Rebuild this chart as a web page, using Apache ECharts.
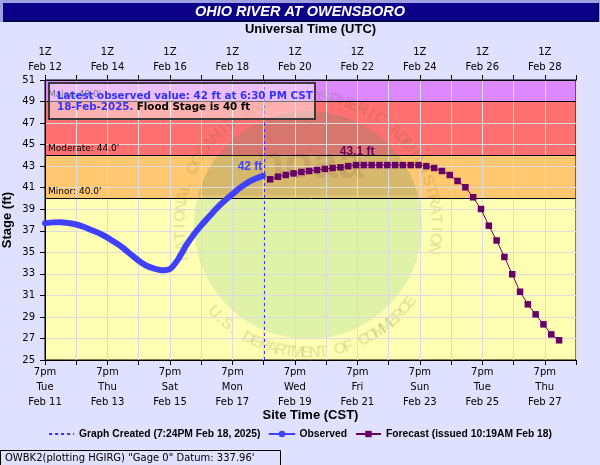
<!DOCTYPE html>
<html><head><meta charset="utf-8">
<script src="https://cdn.jsdelivr.net/npm/echarts@6/dist/echarts.min.js"></script>
<style>html,body{margin:0;padding:0;background:#e0e0ff}#c{width:600px;height:465px}</style>
</head><body><div id="c"></div>
<script>
// ---------- data ----------
const chartTitle = 'OHIO RIVER AT OWENSBORO';
const obsTimes = ['2025-02-11 19:00',
  '2025-02-12 01:00','2025-02-12 07:00','2025-02-12 13:00','2025-02-12 19:00',
  '2025-02-13 01:00','2025-02-13 07:00','2025-02-13 13:00','2025-02-13 19:00',
  '2025-02-14 01:00','2025-02-14 07:00','2025-02-14 13:00','2025-02-14 19:00',
  '2025-02-15 01:00','2025-02-15 07:00','2025-02-15 13:00','2025-02-15 19:00',
  '2025-02-16 01:00','2025-02-16 07:00','2025-02-16 13:00','2025-02-16 19:00',
  '2025-02-17 01:00','2025-02-17 07:00','2025-02-17 13:00','2025-02-17 19:00',
  '2025-02-18 01:00','2025-02-18 07:00','2025-02-18 13:00','2025-02-18 18:30'];
const obsStage = [37.7,
  37.78,37.8,37.72,37.58,
  37.35,37.05,36.75,36.37,
  35.9,35.4,34.8,34.22,
  33.75,33.48,33.33,33.45,
  34.3,35.55,36.6,37.5,
  38.3,39.1,39.78,40.4,
  41.0,41.5,41.85,42.1];
const fcstTimes = [
  '2025-02-19 00:00','2025-02-19 06:00','2025-02-19 12:00','2025-02-19 18:00',
  '2025-02-20 00:00','2025-02-20 06:00','2025-02-20 12:00','2025-02-20 18:00',
  '2025-02-21 00:00','2025-02-21 06:00','2025-02-21 12:00','2025-02-21 18:00',
  '2025-02-22 00:00','2025-02-22 06:00','2025-02-22 12:00','2025-02-22 18:00',
  '2025-02-23 00:00','2025-02-23 06:00','2025-02-23 12:00','2025-02-23 18:00',
  '2025-02-24 00:00','2025-02-24 06:00','2025-02-24 12:00','2025-02-24 18:00',
  '2025-02-25 00:00','2025-02-25 06:00','2025-02-25 12:00','2025-02-25 18:00',
  '2025-02-26 00:00','2025-02-26 06:00','2025-02-26 12:00','2025-02-26 18:00',
  '2025-02-27 00:00','2025-02-27 06:00','2025-02-27 12:00','2025-02-27 18:00',
  '2025-02-28 00:00','2025-02-28 06:00'];
const fcstStage = [
  41.78,42.02,42.18,42.33,
  42.46,42.55,42.64,42.74,
  42.83,42.89,43.0,43.1,
  43.1,43.1,43.1,43.1,
  43.1,43.1,43.1,43.1,
  43.0,42.83,42.55,42.18,
  41.62,41.04,40.11,39.02,
  37.47,36.1,34.57,32.96,
  31.34,30.17,29.24,28.31,
  27.38,26.83];
const floodNames = ['Minor','Moderate','Major'];
const floodStages = [40, 44, 49];
const bandColors = ['#ffffb4','#ffc870','#ff7070','#dd88ff'];
const yMin = 25, yMax = 51, yStep = 2;
const xStart = '2025-02-11 19:00', xEnd = '2025-02-28 19:00';
const graphCreated = '2025-02-18 19:24';
const legendNames = ['Graph Created (7:24PM Feb 18, 2025)','Observed','Forecast (issued 10:19AM Feb 18)'];
const footerText = 'OWBK2(plotting HGIRG) "Gage 0" Datum: 337.96\'';
const dayNames = ['Sun','Mon','Tue','Wed','Thu','Fri','Sat'];
const monNames = ['Jan','Feb','Mar','Apr','May','Jun','Jul','Aug','Sep','Oct','Nov','Dec'];

// ---------- helpers ----------
const CST = -6, HOUR = 3600e3, DAY = 86400e3;
function toMs(s){ // CST string -> UTC ms
  return Date.UTC(+s.slice(0,4), +s.slice(5,7)-1, +s.slice(8,10), +s.slice(11,13) - CST, +s.slice(14,16));
}
const xMin = toMs(xStart), xMax = toMs(xEnd);
const obsData = obsTimes.map((t,i)=>[toMs(t), obsStage[i]]);
let peakIdx = 0; fcstStage.forEach((v,i)=>{ if (v > fcstStage[peakIdx]) peakIdx = i; });
const fcstData = fcstTimes.map((t,i)=>{
  const d = {value:[toMs(t), fcstStage[i]]};
  if (i === peakIdx) d.label = {show:true, position:'top', distance:4, offset:[1,0],
     formatter: fcstStage[i].toFixed(1)+' ft', color:'#660066', fontWeight:'bold', fontSize:12, fontFamily:'Liberation Sans'};
  return d;
});
const lastObs = obsData.length-1;

// info text
const lt = obsTimes[lastObs];
const lh = +lt.slice(11,13), lm = lt.slice(14,16);
const ltStr = ((lh%12)||12)+':'+lm+' '+(lh>=12?'PM':'AM')+' CST';
const ldStr = lt.slice(8,10)+'-'+monNames[+lt.slice(5,7)-1]+'-'+lt.slice(0,4)+'.';
const infoLine1 = 'Latest observed value: '+Math.round(obsStage[lastObs])+' ft at '+ltStr;
const infoLine2b = 'Flood Stage is '+floodStages[0]+' ft';

// band areas
const bandEdges = [yMin].concat(floodStages, [yMax]);
const bandAreas = bandColors.map((c,i)=>[{yAxis:bandEdges[i], itemStyle:{color:c}}, {yAxis:bandEdges[i+1]}]);

// watermark (decorative logo)
const wm = [];
const WCX = 308, WCY = 225, WR = 128, WZ = -0.5, WDISK = 114;
function arcText(str, a0, a1, top){
  const n = str.length;
  for (let i=0;i<n;i++){
    const a = (a0 + (a1-a0)*(i+0.5)/n) * Math.PI/180;
    wm.push({type:'text', x: WCX + WR*Math.cos(a), y: WCY - WR*Math.sin(a),
      rotation: top ? a - Math.PI/2 : a + Math.PI/2, silent:true, z:WZ,
      style:{text:str[i], fill:'rgba(80,100,20,0.14)', font:'bold 16px "Liberation Sans"', align:'center', verticalAlign:'middle'}});
  }
}
arcText('NATIONAL OCEANIC AND ATMOSPHERIC ADMINISTRATION', 196, -13, true);
arcText('U.S. DEPARTMENT OF COMMERCE', 221, 325, false);
const capPts = [];
for (let a = 15; a <= 165; a += 5) { const r = a*Math.PI/180; capPts.push([WCX + WDISK*Math.cos(r), WCY - WDISK*Math.sin(r)]); }

const labelFont = 'DejaVu Sans';
const chart = echarts.init(document.getElementById('c'), null, {renderer:'canvas'});
chart.setOption({
  backgroundColor:'#e0e0ff',
  animation:false,
  grid:{left:45, right:24, top:80, bottom:105, show:true, borderColor:'#000', borderWidth:1, backgroundColor:'transparent', z:0,
    containLabel:false, outerBoundsMode:'none'},
  xAxis:[{
    type:'value', min:xMin, max:xMax, interval:DAY, position:'bottom',
    name:'Site Time (CST)', nameLocation:'middle', nameGap:48.5, nameMoveOverlap:false,
    nameTextStyle:{fontFamily:'Liberation Sans', fontWeight:'bold', fontSize:13, color:'#000'},
    axisLine:{show:true, lineStyle:{color:'#000'}},
    axisTick:{show:true, length:5, lineStyle:{color:'#000'}},
    splitLine:{show:true, lineStyle:{color:'#dcdcdc', width:1}},
    axisLabel:{hideOverlap:false, margin:5, fontFamily:labelFont, fontSize:10, color:'#000', lineHeight:15,
      formatter:v=>{ const k=Math.round((v-xMin)/DAY); if(k%2) return '';
        const d=new Date(v+CST*HOUR); const h=d.getUTCHours();
        return ((h%12)||12)+(h>=12?'pm':'am')+'\n'+dayNames[d.getUTCDay()]+'\n'+monNames[d.getUTCMonth()]+' '+d.getUTCDate(); }}
  },{
    type:'value', min:xMin, max:xMax, interval:DAY, position:'top',
    name:'Universal Time (UTC)', nameLocation:'middle', nameGap:44.5, nameMoveOverlap:false,
    nameTextStyle:{fontFamily:'Liberation Sans', fontWeight:'bold', fontSize:13, color:'#000'},
    axisLine:{show:true, lineStyle:{color:'#000'}},
    axisTick:{show:true, length:5, lineStyle:{color:'#000'}},
    splitLine:{show:false},
    axisLabel:{hideOverlap:false, margin:5, fontFamily:labelFont, fontSize:10, color:'#000', lineHeight:15,
      formatter:v=>{ const k=Math.round((v-xMin)/DAY); if(k%2) return '';
        const d=new Date(v); return d.getUTCHours()+'Z\n'+monNames[d.getUTCMonth()]+' '+d.getUTCDate(); }}
  }],
  yAxis:{
    type:'value', min:yMin, max:yMax, interval:yStep,
    name:'Stage (ft)', nameLocation:'middle', nameGap:31, nameMoveOverlap:false,
    nameTextStyle:{fontFamily:'Liberation Sans', fontWeight:'bold', fontSize:13, color:'#000'},
    axisLine:{show:true, lineStyle:{color:'#000'}},
    axisTick:{show:true, length:5, lineStyle:{color:'#000'}},
    splitLine:{show:true, lineStyle:{color:'#dcdcdc', width:1}},
    axisLabel:{margin:10, fontFamily:labelFont, fontSize:10, color:'#000'}
  },
  legend:{
    bottom:21, left:'center', itemWidth:25, itemHeight:8, itemGap:8,
    textStyle:{fontFamily:'Liberation Sans', fontWeight:'bold', fontSize:10.3, color:'#000'},
    data:[{name:legendNames[0], itemStyle:{opacity:0}},{name:legendNames[1], lineStyle:{width:2}},{name:legendNames[2]}]
  },
  graphic:[
    {type:'rect', shape:{x:0,y:0,width:600,height:22}, style:{fill:'#a0a0e0'}, silent:true, z:20},
    {type:'rect', shape:{x:3,y:3,width:596,height:19}, style:{fill:'#000050'}, silent:true, z:20},
    {type:'rect', shape:{x:3,y:3,width:594,height:17}, style:{fill:'#0c0088'}, silent:true, z:20},
    {type:'text', x:300, y:11.5, silent:true, z:21, style:{text:chartTitle, fill:'#fff', font:'italic bold 14.5px "Liberation Sans"', align:'center', verticalAlign:'middle'}},
    {type:'circle', shape:{cx:WCX, cy:WCY, r:WDISK}, style:{fill:'rgba(100,190,120,0.2)'}, silent:true, z:WZ},
    {type:'polygon', shape:{points:capPts}, style:{fill:'rgba(90,0,60,0.07)'}, silent:true, z:WZ},
    {type:'text', x:310, y:165, silent:true, z:WZ, style:{text:'noaa', fill:'rgba(110,20,60,0.1)', font:'bold 46px "Liberation Sans"', align:'center', verticalAlign:'middle'}},
    ...wm,
    {type:'rect', shape:{x:49,y:83,width:266,height:36}, style:{fill:'rgba(255,255,255,0.45)', stroke:'#3a3a3a', lineWidth:2}, silent:true, z:10},
    {type:'text', x:57, y:102, silent:true, z:11, style:{text:'{b|'+infoLine1+'}\n{b|'+ldStr+'} {k|'+infoLine2b+'}', verticalAlign:'middle', lineHeight:11,
      rich:{b:{fill:'#3333ff', font:'bold 10.3px "DejaVu Sans"', lineHeight:11}, k:{fill:'#000', font:'bold 10.3px "DejaVu Sans"', lineHeight:11}}}},
    {type:'rect', shape:{x:0.5,y:450.5,width:280,height:17}, style:{fill:'none', stroke:'#000', lineWidth:1}, silent:true},
    {type:'text', x:5, y:458.5, silent:true, style:{text:footerText, fill:'#000', font:'10px "DejaVu Sans"', verticalAlign:'middle'}}
  ],
  series:[
    {name:'bands', type:'line', data:[], z:-1, silent:true,
      markArea:{silent:true, z:-1, data:bandAreas}},
    {name:'floods', type:'line', data:[], silent:true, z:3,
      markLine:{silent:true, symbol:'none', z:3, animation:false,
        lineStyle:{color:'#000', width:1, type:'solid'},
        label:{show:true, position:'insideStartTop', distance:[3,2], color:'#000', fontFamily:labelFont, fontSize:9},
        data:floodStages.map((s,i)=>({yAxis:s, name:floodNames[i], label:{formatter:floodNames[i]+': '+s.toFixed(1)+"'"}}))}},
    {name:legendNames[0], type:'line', data:[], symbol:'none', z:4,
      lineStyle:{color:'#3333ff', width:1, type:[3,3]}, itemStyle:{color:'#3333ff'},
      markLine:{silent:true, symbol:'none', label:{show:false}, z:4,
        lineStyle:{color:'#3333ff', width:1, type:[3,3]}, data:[{xAxis:toMs(graphCreated)}]}},
    {name:legendNames[1], type:'line', data:obsData, symbol:'circle', symbolSize:7, showSymbol:false, smooth:0.2, z:5,
      lineStyle:{color:'#4040ff', width:6, cap:'round', join:'round'}, itemStyle:{color:'#4040ff'},
      markPoint:{silent:true, symbol:'circle', symbolSize:0, z:6,
        label:{show:true, position:'top', distance:3, offset:[-13,0], color:'#4040ff', fontWeight:'bold', fontSize:12, fontFamily:'Liberation Sans',
          formatter: Math.round(obsStage[lastObs])+' ft'},
        data:[{coord:obsData[lastObs]}]}},
    {name:legendNames[2], type:'line', data:fcstData, symbol:'rect', symbolSize:6.5, z:6,
      lineStyle:{color:'#660066', width:1}, itemStyle:{color:'#660066'}}
  ]
});
</script></body></html>
